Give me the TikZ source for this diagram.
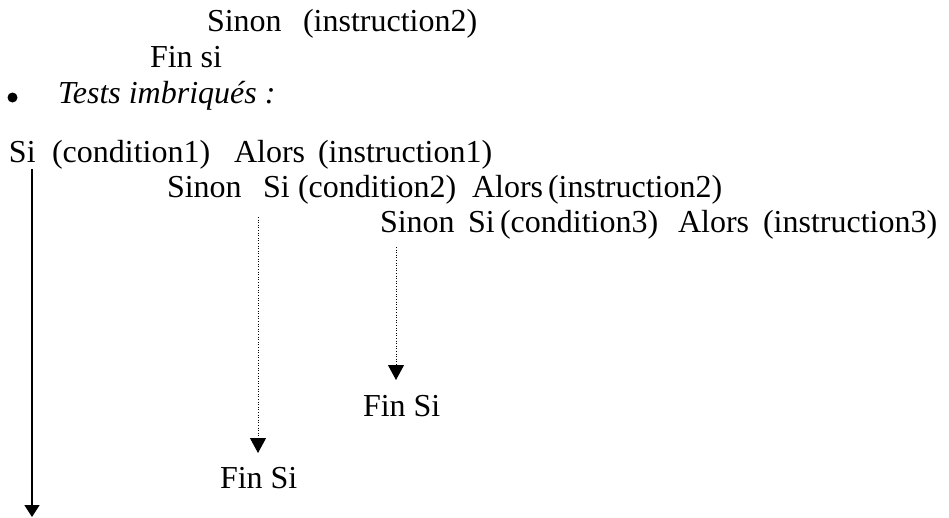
\documentclass[tikz,border=0pt]{standalone}
\usepackage{fontspec}
\setmainfont{Liberation Serif}
\usetikzlibrary{arrows.meta}
\begin{document}
\begin{tikzpicture}[x=1pt,y=-1pt,
  txt/.style={anchor=base west,inner sep=0pt,outer sep=0pt,font=\fontsize{32}{38}\selectfont},
  solidarrow/.style={line width=1.6pt,-{Triangle[width=15pt,length=12pt]}},
  dotarrow/.style={line width=1pt,dash pattern=on 1pt off 1.6pt,-{Triangle[width=16pt,length=15pt]}}]
\useasboundingbox (0,0) rectangle (949,517);
% header lines
\node[txt] (s0) at (207,31) {Sinon};
\node[txt] (i0) at (303,31) {(instruction2)};
\node[txt] (f0) at (150,67) {Fin si};
\fill (12.5,97.5) circle (5pt);
\node[txt,font=\fontsize{32}{38}\selectfont\itshape] (tests) at (58,103) {Tests imbriqués :};
% row 1
\node[txt] (si1) at (9,162) {Si};
\node[txt] (c1) at (52,162) {(condition1)};
\node[txt] (a1) at (234,162) {Alors};
\node[txt] (i1) at (318,162) {(instruction1)};
% row 2
\node[txt] (s2) at (167,197) {Sinon};
\node[txt] (si2) at (263,197) {Si};
\node[txt] (c2) at (298,197) {(condition2)};
\node[txt] (a2) at (472,197) {Alors};
\node[txt] (i2) at (548,197) {(instruction2)};
% row 3
\node[txt] (s3) at (380,232) {Sinon};
\node[txt] (si3) at (468,232) {Si};
\node[txt] (c3) at (500,232) {(condition3)};
\node[txt] (a3) at (678,232) {Alors};
\node[txt] (i3) at (763,232) {(instruction3)};
% end nodes
\node[txt] (fin3) at (363,416) {Fin Si};
\node[txt] (fin2) at (220,488) {Fin Si};
% connectors
\coordinate (m0) at (32,169);
\coordinate (m1) at (32,517);
\coordinate (d20) at (258,217);
\coordinate (d21) at (258,453);
\coordinate (d30) at (396,247);
\coordinate (d31) at (396,380);
\draw[solidarrow] (m0) -- (m1);
\draw[dotarrow] (d20) -- (d21);
\draw[dotarrow] (d30) -- (d31);
\end{tikzpicture}
\end{document}
